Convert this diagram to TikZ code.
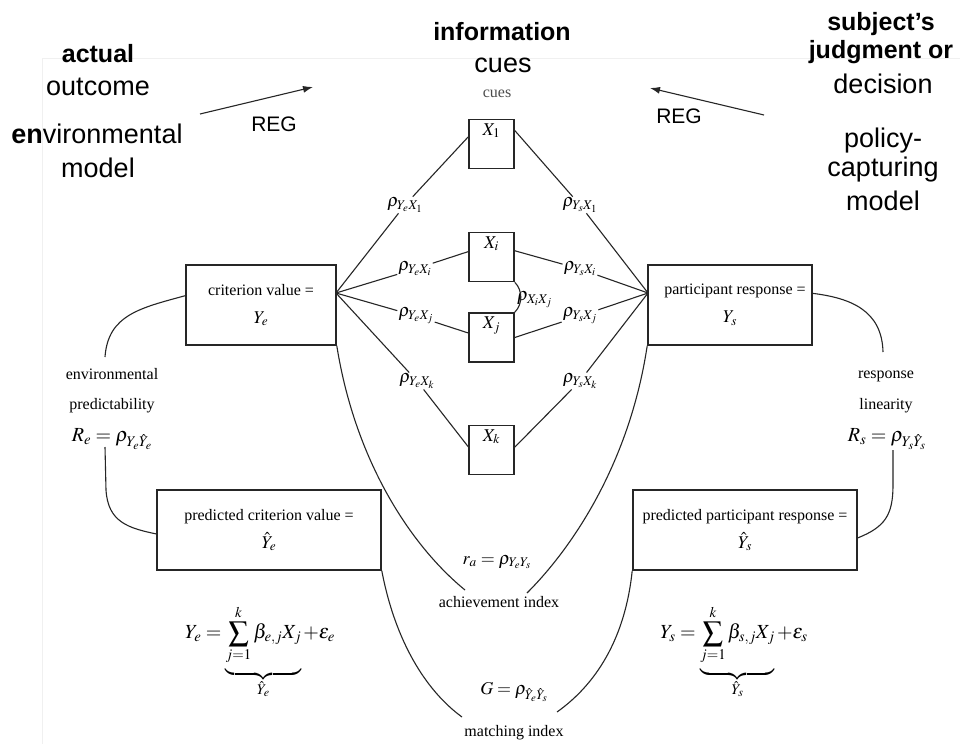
\documentclass[tikz,border=0pt]{standalone}
\usepackage{mathptmx}
\usepackage[no-math]{fontspec}
\setmainfont{Liberation Serif}
\newfontfamily\hdfont{Liberation Sans}
\usetikzlibrary{arrows.meta}

% sum with a little extra room below its lower limit
\newcommand\roomysum[1]{\raisebox{0pt}[\height][\dimexpr\depth+5pt\relax]{$\displaystyle #1$}}

\tikzset{
  conn/.style={draw=black!85, line width=1.1pt},
  hd/.style={font=\hdfont\fontsize{27}{32}\selectfont, inner sep=0pt, anchor=base},
  hdb/.style={font=\hdfont\bfseries\fontsize{25}{30}\selectfont, inner sep=0pt, anchor=base},
  reg/.style={font=\hdfont\fontsize{21}{24}\selectfont, inner sep=0pt},
  cue/.style={draw=black!85, line width=1.6pt, minimum width=45pt, minimum height=49pt,
    inner sep=0pt, text height=12pt, text depth=30pt, font=\fontsize{18}{20}\selectfont},
  bigbox/.style={draw=black!85, line width=1.6pt, minimum height=80pt, inner sep=2pt,
    align=center, font=\fontsize{16}{28}\selectfont},
  lbl/.style={font=\fontsize{16}{20}\selectfont, inner sep=0pt, anchor=base},
  rho/.style={font=\fontsize{18}{20}\selectfont, inner sep=1pt},
  rhobig/.style={font=\fontsize{20}{22}\selectfont, inner sep=1pt},
  eqn/.style={font=\fontsize{20}{22}\selectfont, inner sep=0pt},
  regarrow/.style={draw=black!85, line width=1.1pt, -{Latex[length=10pt,width=7pt]}},
}

\begin{document}
\begin{tikzpicture}[x=1pt, y=-1pt]
  \fill[white] (0,0) rectangle (960,744);
  \useasboundingbox (0,0) rectangle (960,744);
  % faint frame edge of the pasted figure
  \draw[black!6, line width=0.8pt] (42,744) -- (42,58) -- (960,58);

  % ---- headings ----
  \node[hdb] (actual) at (98,62) {actual};
  \node[hd] (outcome) at (98,95) {outcome};
  \node[hd] (envmodel) at (97,143) {\textbf{en}vironmental};
  \node[hd] (modelL) at (98,177) {model};

  \node[hdb] (info) at (502,40) {information};
  \node[hd] (cuesH) at (503,72) {cues};
  \node[lbl, text=black!70] (cuesS) at (497,97) {cues};

  \node[hdb] (subj) at (881,30) {subject’s};
  \node[hdb] (judg) at (881,58) {judgment or};
  \node[hd] (deci) at (883,93) {decision};
  \node[hd] (poli) at (883,147) {policy-};
  \node[hd] (capt) at (883,176) {capturing};
  \node[hd] (modelR) at (883,210) {model};

  % ---- REG arrows ----
  \coordinate (regLs) at (200,114);
  \coordinate (regLe) at (313,87);
  \coordinate (regRs) at (764,115);
  \coordinate (regRe) at (650,88);
  \draw[regarrow] (regLs) -- (regLe);
  \draw[regarrow] (regRs) -- (regRe);
  \node[reg] (regL) at (274,124) {REG};
  \node[reg] (regR) at (679,116) {REG};

  % ---- cue boxes ----
  \node[cue] (X1) at (491.5,144) {$X_1$};
  \node[cue] (Xi) at (491.5,257) {$X_i$};
  \node[cue] (Xj) at (491.5,337.5) {$X_j$};
  \node[cue] (Xk) at (491.5,450) {$X_k$};

  % ---- criterion / response boxes ----
  \node[bigbox, minimum width=150pt] (crit) at (261,305)
    {criterion value =\\{\fontsize{18}{28}\selectfont$Y_e$}};
  \node[bigbox, minimum width=164pt] (part) at (730,305)
    {\hspace*{10pt}participant response =\\{\fontsize{18}{28}\selectfont$Y_s$}};
  \node[bigbox, minimum width=224pt] (pcrit) at (269,530)
    {predicted criterion value =\\{\fontsize{18}{28}\selectfont$\hat{Y}_e$}};
  \node[bigbox, minimum width=224pt] (ppart) at (745,530)
    {predicted participant response =\\{\fontsize{18}{28}\selectfont$\hat{Y}_s$}};

  \coordinate (fanL) at (336,293);
  \coordinate (fanR) at (648,293);

  % ---- cue validities and utilizations ----
  \node[rho] (lYeX1) at (405,205) {$\rho_{Y_eX_1}$};
  \node[rho] (lYsX1) at (580,205) {$\rho_{Y_sX_1}$};
  \node[rho] (lYeXi) at (415,269) {$\rho_{Y_eX_i}$};
  \node[rho] (lYsXi) at (580,269) {$\rho_{Y_sX_i}$};
  \node[rho] (lYeXj) at (416,316) {$\rho_{Y_eX_j}$};
  \node[rho] (lYsXj) at (580,316) {$\rho_{Y_sX_j}$};
  \node[rho] (lYeXk) at (417,381) {$\rho_{Y_eX_k}$};
  \node[rho] (lYsXk) at (580,381) {$\rho_{Y_sX_k}$};
  \node[rho, anchor=west] (lXiXj) at (516,300) {$\rho_{X_iX_j}$};

  \draw[conn] (fanL) -- (lYeX1) -- (X1.163);
  \draw[conn] (fanL) -- (lYeXi) -- (Xi.167);
  \draw[conn] (fanL) -- (lYeXj) -- (Xj.169);
  \draw[conn] (fanL) -- (lYeXk) -- (Xk.172);
  \draw[conn] (X1.30) -- (lYsX1) -- (fanR);
  \draw[conn] (Xi.15) -- (lYsXi) -- (fanR);
  \draw[conn] (Xj.0) -- (lYsXj) -- (fanR);
  \draw[conn] (Xk.7) -- (lYsXk) -- (fanR);
  \draw[conn] (Xi.south east) .. controls +(8,8) and +(8,-8) .. (Xj.north east);

  % ---- environmental predictability ----
  \node[lbl] (envL) at (112,379) {environmental};
  \node[lbl] (predL) at (112,409) {predictability};
  \node[rhobig, anchor=base] (Re) at (112,441) {$R_e=\rho_{Y_e\hat{Y}_e}$};
  \coordinate (envTop) at (105,357);
  \coordinate (envBot) at (105,447);
  \draw[conn] (crit.173) .. controls (140,308) and (108,315) .. (envTop);
  \draw[conn] (envBot) -- (106,490) .. controls (108,522) and (128,528) .. (pcrit.182);

  % ---- response linearity ----
  \node[lbl] (respL) at (886,378) {response};
  \node[lbl] (linL) at (886,409) {linearity};
  \node[rhobig, anchor=base] (Rs) at (887,441) {$R_s=\rho_{Y_s\hat{Y}_s}$};
  \coordinate (linTop) at (883,352);
  \coordinate (linBot) at (893,450);
  \draw[conn] (part.8) .. controls (850,298) and (882,310) .. (linTop);
  \draw[conn] (linBot) -- (893,485) .. controls (893,515) and (885,527) .. (ppart.-4);

  % ---- achievement index ----
  \node[rho] (ra) at (497,562) {$r_a=\rho_{Y_eY_s}$};
  \node[lbl] (ach) at (499,607) {achievement index};
  \coordinate (achL) at (465,590);
  \coordinate (achR) at (527,593);
  \draw[conn] (crit.south east) .. controls (355,460) and (410,545) .. (achL);
  \draw[conn] (part.south west) .. controls (630,460) and (575,545) .. (achR);

  % ---- matching index ----
  \node[rho] (G) at (514,692) {$G=\rho_{\hat{Y}_e\hat{Y}_s}$};
  \node[lbl] (match) at (514,736) {matching index};
  \coordinate (matL) at (462,717);
  \coordinate (matR) at (557,712);
  \draw[conn] (pcrit.south east) .. controls (395,640) and (425,690) .. (matL);
  \draw[conn] (ppart.south west) .. controls (625,640) and (595,685) .. (matR);

  % ---- linear models ----
  \node[eqn] (eqE) at (260,652)
    {$\displaystyle Y_e=\underbrace{\roomysum{\sum_{j=1}^{k}\beta_{e,j}X_j}}_{\hat{Y}_e}+\varepsilon_e$};
  \node[eqn] (eqS) at (734,652)
    {$\displaystyle Y_s=\underbrace{\roomysum{\sum_{j=1}^{k}\beta_{s,j}X_j}}_{\hat{Y}_s}+\varepsilon_s$};
\end{tikzpicture}
\end{document}
